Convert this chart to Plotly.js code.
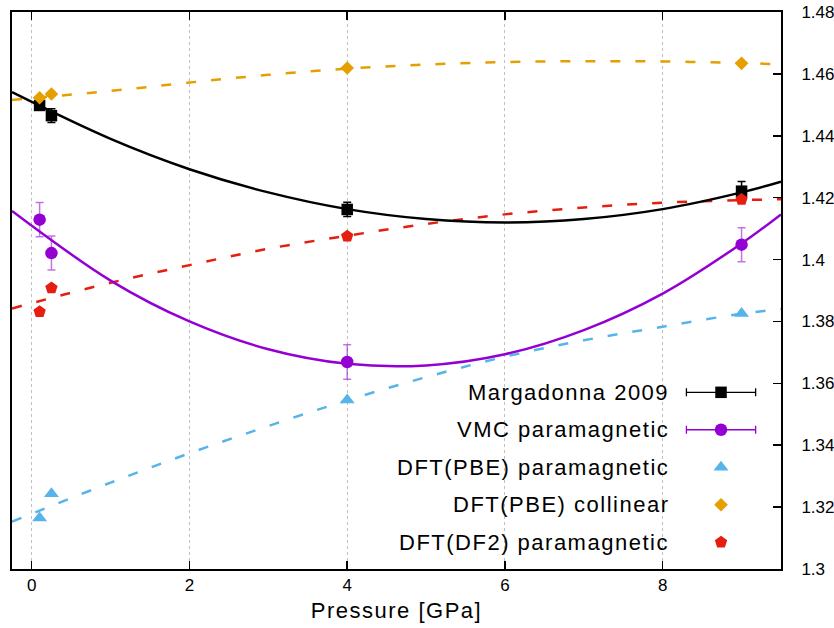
<!DOCTYPE html>
<html>
<head>
<meta charset="utf-8">
<script src="https://cdn.plot.ly/plotly-3.0.1.min.js"></script>
<style>
  html, body { margin: 0; padding: 0; background: #fff; }
  #chart { width: 834px; height: 628px; }
  /* slightly open tracking for the key and axis title */
  .annotation-text, .xtitle { letter-spacing: 1.5px; }
</style>
</head>
<body>
<div id="chart"></div>
<script>
// Measured points (pressure in GPa)
const pressure = [0.1, 0.25, 4, 9];
const margadonna = [1.4498, 1.4465, 1.4162, 1.4221];
const margadonnaErr = [0.0015, 0.0022, 0.0023, 0.0031];
const vmcPara = [1.4129, 1.4021, 1.3669, 1.4048];
const vmcParaErr = [0.0055, 0.0055, 0.0056, 0.0055];
const pbePara = [1.3165, 1.3243, 1.3546, 1.3826];
const pbeColl = [1.4523, 1.4535, 1.4619, 1.4634];
const df2Para = [1.3831, 1.3908, 1.4075, 1.4194];

// Fitted trend curves, sampled along the pressure axis
const fitPressure = [-0.25, 1, 2, 3, 4, 5, 6, 7, 8, 9, 9.5];
const fitMargadonna = [1.4541, 1.4390, 1.4292, 1.4217, 1.4163, 1.4131, 1.4120, 1.4131, 1.4163, 1.4217, 1.4252];
const fitVmcPara = [1.4157, 1.3932, 1.3800, 1.3710, 1.3663, 1.3658, 1.3694, 1.3772, 1.3890, 1.4052, 1.4146];
const fitPbePara = [1.3153, 1.3279, 1.3374, 1.3462, 1.3545, 1.3620, 1.3686, 1.3739, 1.3783, 1.3825, 1.3840];
const fitPbeColl = [1.4516, 1.4545, 1.4572, 1.4597, 1.4617, 1.4630, 1.4638, 1.4641, 1.4640, 1.4635, 1.4631];
const fitDf2Para = [1.3842, 1.3925, 1.3982, 1.4035, 1.4077, 1.4115, 1.4146, 1.4168, 1.4184, 1.4192, 1.4195];

// Key entries
const seriesNames = ["Margadonna 2009", "VMC paramagnetic", "DFT(PBE) paramagnetic", "DFT(PBE) collinear", "DFT(DF2) paramagnetic"];
const seriesColors = ["#000000", "#9400d3", "#56b4e9", "#e69f00", "#e51e10"];
const seriesSymbols = ["square", "circle", "triangle-up", "diamond", "pentagon"];
const seriesSizes = [11.5, 12.5, 13, 10.5, 13];

const FONT = "Liberation Sans, Arial, sans-serif";
const dash = "10px,15px";

function fitTrace(y, color, dashed) {
  return {
    x: fitPressure, y: y, mode: "lines", type: "scatter", hoverinfo: "skip",
    line: { color: color, width: 2.5, shape: "spline", dash: dashed ? dash : "solid" },
    showlegend: false
  };
}
function pointTrace(y, i, err, errColor) {
  const t = {
    x: pressure, y: y, mode: "markers", type: "scatter", showlegend: false,
    marker: { symbol: seriesSymbols[i], size: seriesSizes[i], color: seriesColors[i] }
  };
  if (err) {
    t.error_y = { type: "data", array: err, visible: true, color: errColor, thickness: 1.5, width: 4 };
  }
  return t;
}

const traces = [
  fitTrace(fitPbeColl, seriesColors[3], true),
  fitTrace(fitDf2Para, seriesColors[4], true),
  fitTrace(fitPbePara, seriesColors[2], true),
  fitTrace(fitMargadonna, seriesColors[0], false),
  fitTrace(fitVmcPara, seriesColors[1], false),
  pointTrace(margadonna, 0, margadonnaErr, "#000000"),
  pointTrace(vmcPara, 1, vmcParaErr, "rgba(148,0,211,0.55)"),
  pointTrace(pbePara, 2),
  pointTrace(pbeColl, 3),
  pointTrace(df2Para, 4)
];

// Key: text on the left, sample on the right
const keyTextX = 0.857, keySampleX = 0.922, keyHalf = 0.045;
const keyRowsY = [0.3172, 0.2500, 0.1827, 0.1154, 0.0481];
const annotations = [];
seriesNames.forEach((name, i) => {
  annotations.push({
    xref: "paper", yref: "paper", x: keyTextX, y: keyRowsY[i],
    xanchor: "right", yanchor: "middle", showarrow: false,
    text: name, font: { family: FONT, size: 22, color: "#000" }
  });
  const k = {
    x: [keySampleX], y: [keyRowsY[i]], xaxis: "x2", yaxis: "y2",
    mode: "markers", type: "scatter", showlegend: false, hoverinfo: "skip",
    marker: { symbol: seriesSymbols[i], size: seriesSizes[i], color: seriesColors[i] }
  };
  if (i < 2) {
    k.error_x = { type: "constant", value: keyHalf, visible: true, color: seriesColors[i], thickness: 1.3, width: 4 };
  }
  traces.push(k);
});

const layout = {
  width: 834, height: 628,
  margin: { l: 12, r: 53, t: 12, b: 59 },
  paper_bgcolor: "#fff", plot_bgcolor: "#fff",
  showlegend: false,
  font: { family: FONT, size: 18, color: "#000" },
  xaxis: {
    range: [-0.25, 9.5], tickvals: [0, 2, 4, 6, 8], ticktext: ["0", "2", "4", "6", "8"],
    ticks: "inside", ticklen: 8, tickcolor: "#000", tickwidth: 1.5,
    showline: true, linecolor: "#000", linewidth: 2, mirror: "ticks",
    showgrid: true, gridcolor: "#c0c0c0", griddash: "dot", gridwidth: 1,
    zeroline: false,
    tickfont: { family: FONT, size: 17 },
    title: { text: "Pressure [GPa]", font: { family: FONT, size: 22 }, standoff: 8 }
  },
  yaxis: {
    range: [1.3, 1.48], side: "right", dtick: 0.02, tick0: 1.3,
    ticks: "inside", ticklen: 8, tickcolor: "#000", tickwidth: 1.5,
    showline: true, linecolor: "#000", linewidth: 2, mirror: true,
    showgrid: false, zeroline: false,
    ticklabelstandoff: 15,
    tickfont: { family: FONT, size: 17 }
  },
  xaxis2: { overlaying: "x", range: [0, 1], visible: false, fixedrange: true },
  yaxis2: { overlaying: "y", range: [0, 1], visible: false, fixedrange: true },
  annotations: annotations
};

Plotly.newPlot("chart", traces, layout, { staticPlot: true });
</script>
</body>
</html>
